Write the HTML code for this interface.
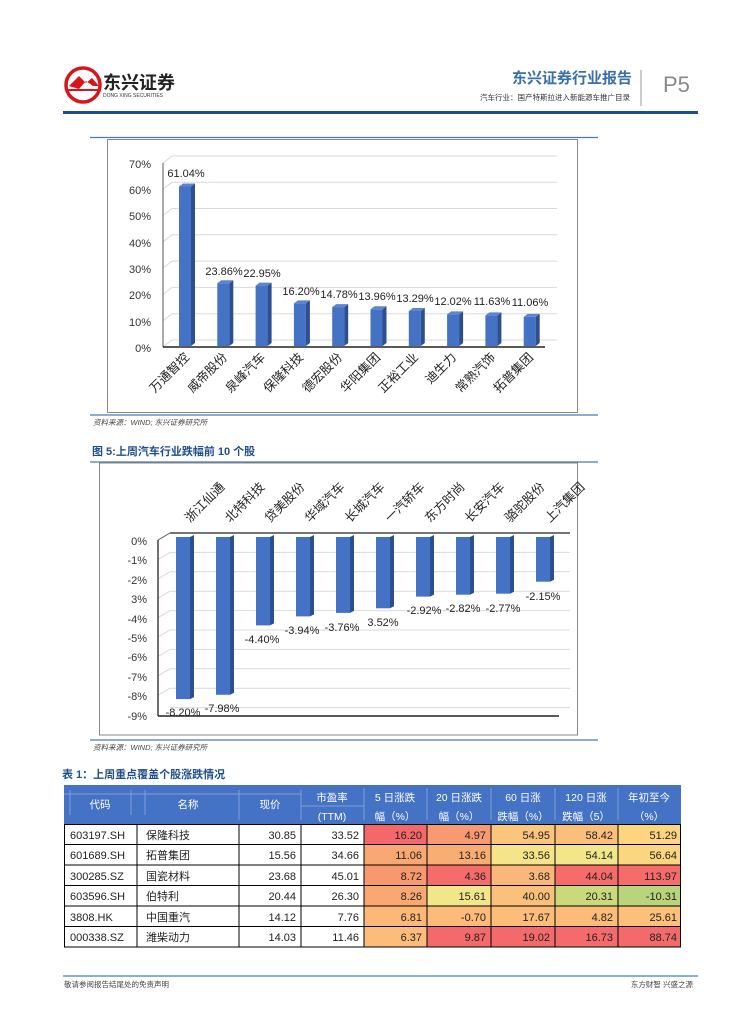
<!DOCTYPE html>
<html><head><meta charset="utf-8"><style>
html,body{margin:0;padding:0;background:#fff;}
svg{display:block;}
text{font-family:"Liberation Sans","Noto Sans CJK SC",sans-serif;}
</style></head><body>
<svg width="755" height="1024" viewBox="0 0 755 1024" xmlns="http://www.w3.org/2000/svg">
<!-- header -->
<circle cx="83" cy="85" r="17" fill="none" stroke="#d7161c" stroke-width="3.5"/>
<path d="M69 86 L79 76 L86 83 L92 78 L99 86 L93 86 L86 81 L79 89 Z" fill="#d7161c"/>
<path d="M68 90 L99 90" stroke="#d7161c" stroke-width="2"/>
<text x="103" y="89" font-size="18" font-weight="bold" fill="#222">东兴证券</text>
<text x="103" y="97" font-size="5" fill="#333">DONG XING SECURITIES</text>
<text x="632" y="83" font-size="15" font-weight="bold" fill="#3a6fa8" text-anchor="end">东兴证券行业报告</text>
<text x="630" y="100" font-size="7.5" fill="#333" text-anchor="end">汽车行业：国产特斯拉进入新能源车推广目录</text>
<line x1="641" y1="70" x2="641" y2="106" stroke="#999" stroke-width="1"/>
<text x="663" y="92" font-size="22" fill="#888">P5</text>
<rect x="63" y="111" width="635" height="3" fill="#1f4e8c"/>

<!-- chart 1 -->
<line x1="90" y1="137.5" x2="598" y2="137.5" stroke="#4a7ab0" stroke-width="1.2"/>
<rect x="107.5" y="139.5" width="470" height="273" fill="none" stroke="#888" stroke-width="1"/>
<line x1="90" y1="415" x2="598" y2="415" stroke="#4a7ab0" stroke-width="1.2"/>
<g stroke="#d9d9d9" stroke-width="1">
<line x1="172" y1="340" x2="557" y2="340"/><line x1="172" y1="313.7" x2="557" y2="313.7"/>
<line x1="172" y1="287.4" x2="557" y2="287.4"/><line x1="172" y1="261.1" x2="557" y2="261.1"/>
<line x1="172" y1="234.8" x2="557" y2="234.8"/><line x1="172" y1="208.5" x2="557" y2="208.5"/>
<line x1="172" y1="182.2" x2="557" y2="182.2"/><line x1="172" y1="156" x2="557" y2="156"/>
<line x1="163" y1="347" x2="172" y2="340"/><line x1="163" y1="320.7" x2="172" y2="313.7"/>
<line x1="163" y1="294.4" x2="172" y2="287.4"/><line x1="163" y1="268.1" x2="172" y2="261.1"/>
<line x1="163" y1="241.8" x2="172" y2="234.8"/><line x1="163" y1="215.5" x2="172" y2="208.5"/>
<line x1="163" y1="189.2" x2="172" y2="182.2"/><line x1="163" y1="163" x2="172" y2="156"/>
</g>
<line x1="163" y1="163" x2="163" y2="347" stroke="#555" stroke-width="1"/>
<line x1="163" y1="347" x2="545" y2="347" stroke="#222" stroke-width="1.5"/>
<g font-size="11" fill="#333" text-anchor="end">
<text x="151" y="168">70%</text><text x="151" y="194">60%</text><text x="151" y="220">50%</text>
<text x="151" y="247">40%</text><text x="151" y="273">30%</text><text x="151" y="299">20%</text>
<text x="151" y="326">10%</text><text x="151" y="352">0%</text>
</g>
<g>
<g fill="#4472c4">
<rect x="179" y="186.5" width="12" height="159.5"/>
<rect x="217.3" y="283.2" width="12" height="62.8"/>
<rect x="255.6" y="285.6" width="12" height="60.4"/>
<rect x="293.9" y="303.4" width="12" height="42.6"/>
<rect x="332.2" y="307.1" width="12" height="38.9"/>
<rect x="370.5" y="309.3" width="12" height="36.7"/>
<rect x="408.8" y="311" width="12" height="35"/>
<rect x="447.1" y="314.4" width="12" height="31.6"/>
<rect x="485.4" y="315.4" width="12" height="30.6"/>
<rect x="523.7" y="316.9" width="12" height="29.1"/>
</g>
<g fill="#2d4f8e">
<path d="M191 186.5 l4 -3 v159.5 l-4 3z"/>
<path d="M229.3 283.2 l4 -3 v62.8 l-4 3z"/>
<path d="M267.6 285.6 l4 -3 v60.4 l-4 3z"/>
<path d="M305.9 303.4 l4 -3 v42.6 l-4 3z"/>
<path d="M344.2 307.1 l4 -3 v38.9 l-4 3z"/>
<path d="M382.5 309.3 l4 -3 v36.7 l-4 3z"/>
<path d="M420.8 311 l4 -3 v35 l-4 3z"/>
<path d="M459.1 314.4 l4 -3 v31.6 l-4 3z"/>
<path d="M497.4 315.4 l4 -3 v30.6 l-4 3z"/>
<path d="M535.7 316.9 l4 -3 v29.1 l-4 3z"/>
</g>
<g fill="#5b85d0">
<path d="M179 186.5 l4 -3 h12 l-4 3z"/>
<path d="M217.3 283.2 l4 -3 h12 l-4 3z"/>
<path d="M255.6 285.6 l4 -3 h12 l-4 3z"/>
<path d="M293.9 303.4 l4 -3 h12 l-4 3z"/>
<path d="M332.2 307.1 l4 -3 h12 l-4 3z"/>
<path d="M370.5 309.3 l4 -3 h12 l-4 3z"/>
<path d="M408.8 311 l4 -3 h12 l-4 3z"/>
<path d="M447.1 314.4 l4 -3 h12 l-4 3z"/>
<path d="M485.4 315.4 l4 -3 h12 l-4 3z"/>
<path d="M523.7 316.9 l4 -3 h12 l-4 3z"/>
</g>
<g font-size="11" fill="#222" text-anchor="middle">
<text x="186" y="177">61.04%</text>
<text x="224" y="275">23.86%</text>
<text x="262" y="277">22.95%</text>
<text x="301" y="295">16.20%</text>
<text x="339" y="298">14.78%</text>
<text x="377" y="300">13.96%</text>
<text x="415" y="302">13.29%</text>
<text x="453" y="305">12.02%</text>
<text x="492" y="305">11.63%</text>
<text x="530" y="306">11.06%</text>
</g>
<g font-size="12.5" fill="#222" text-anchor="end">
<text transform="translate(190,358) rotate(-45)">万通智控</text>
<text transform="translate(228,358) rotate(-45)">威帝股份</text>
<text transform="translate(266,358) rotate(-45)">泉峰汽车</text>
<text transform="translate(304,358) rotate(-45)">保隆科技</text>
<text transform="translate(343,358) rotate(-45)">德宏股份</text>
<text transform="translate(381,358) rotate(-45)">华阳集团</text>
<text transform="translate(419,358) rotate(-45)">正裕工业</text>
<text transform="translate(457,358) rotate(-45)">迪生力</text>
<text transform="translate(496,358) rotate(-45)">常熟汽饰</text>
<text transform="translate(534,358) rotate(-45)">拓普集团</text>
</g>
</g>
<text x="93" y="425" font-size="7.5" font-style="italic" fill="#444">资料来源：WIND; 东兴证券研究所</text>

<!-- chart 2 -->
<text x="92" y="455" font-size="11" font-weight="bold" fill="#1f4e8c">图 5:上周汽车行业跌幅前 10 个股</text>
<line x1="90" y1="462" x2="598" y2="462" stroke="#4a7ab0" stroke-width="1.2"/>
<rect x="99.5" y="463" width="478" height="272" fill="none" stroke="#888" stroke-width="1"/>
<line x1="90" y1="740" x2="598" y2="740" stroke="#4a7ab0" stroke-width="1.2"/>
<g stroke="#d9d9d9" stroke-width="1">
<line x1="170" y1="552.4" x2="570" y2="552.4"/><line x1="170" y1="571.8" x2="570" y2="571.8"/>
<line x1="170" y1="591.2" x2="570" y2="591.2"/><line x1="170" y1="610.6" x2="570" y2="610.6"/>
<line x1="170" y1="630" x2="570" y2="630"/><line x1="170" y1="649.4" x2="570" y2="649.4"/>
<line x1="170" y1="668.8" x2="570" y2="668.8"/><line x1="170" y1="688.2" x2="570" y2="688.2"/>
<line x1="170" y1="707.6" x2="570" y2="707.6"/>
<line x1="158" y1="559.4" x2="170" y2="552.4"/><line x1="158" y1="578.8" x2="170" y2="571.8"/>
<line x1="158" y1="598.2" x2="170" y2="591.2"/><line x1="158" y1="617.6" x2="170" y2="610.6"/>
<line x1="158" y1="637" x2="170" y2="630"/><line x1="158" y1="656.4" x2="170" y2="649.4"/>
<line x1="158" y1="675.8" x2="170" y2="668.8"/><line x1="158" y1="695.2" x2="170" y2="688.2"/>
</g>
<line x1="170" y1="533" x2="570" y2="533" stroke="#222" stroke-width="1.3"/>
<line x1="158" y1="540" x2="170" y2="533" stroke="#555" stroke-width="1"/>
<line x1="158" y1="540" x2="158" y2="716" stroke="#222" stroke-width="1.3"/>
<line x1="158" y1="716" x2="559" y2="716" stroke="#222" stroke-width="1.5"/>
<g font-size="11" fill="#333" text-anchor="end">
<text x="147" y="545">0%</text><text x="147" y="564">-1%</text><text x="147" y="584">-2%</text>
<text x="147" y="603">3%</text><text x="147" y="623">-4%</text><text x="147" y="642">-5%</text>
<text x="147" y="661">-6%</text><text x="147" y="681">-7%</text><text x="147" y="700">-8%</text>
<text x="147" y="720">-9%</text>
</g>
<g fill="#4472c4">
<rect x="176" y="537" width="14" height="162.1"/>
<rect x="216" y="537" width="14" height="157.8"/>
<rect x="256" y="537" width="14" height="88.4"/>
<rect x="296" y="537" width="14" height="79.4"/>
<rect x="336" y="537" width="14" height="75.9"/>
<rect x="376" y="537" width="14" height="71.3"/>
<rect x="416" y="537" width="14" height="59.6"/>
<rect x="456" y="537" width="14" height="57.7"/>
<rect x="496" y="537" width="14" height="56.7"/>
<rect x="536" y="537" width="14" height="44.7"/>
</g>
<g fill="#2d4f8e">
<path d="M190 537 l4 -2 v162.1 l-4 2z"/>
<path d="M230 537 l4 -2 v157.8 l-4 2z"/>
<path d="M270 537 l4 -2 v88.4 l-4 2z"/>
<path d="M310 537 l4 -2 v79.4 l-4 2z"/>
<path d="M350 537 l4 -2 v75.9 l-4 2z"/>
<path d="M390 537 l4 -2 v71.3 l-4 2z"/>
<path d="M430 537 l4 -2 v59.6 l-4 2z"/>
<path d="M470 537 l4 -2 v57.7 l-4 2z"/>
<path d="M510 537 l4 -2 v56.7 l-4 2z"/>
<path d="M550 537 l4 -2 v44.7 l-4 2z"/>
</g>
<g font-size="11" fill="#222" text-anchor="middle">
<text x="183" y="716">-8.20%</text>
<text x="222" y="712">-7.98%</text>
<text x="262" y="643">-4.40%</text>
<text x="302" y="634">-3.94%</text>
<text x="342" y="631">-3.76%</text>
<text x="383" y="626">3.52%</text>
<text x="424" y="614">-2.92%</text>
<text x="463" y="612">-2.82%</text>
<text x="503" y="612">-2.77%</text>
<text x="543" y="600">-2.15%</text>
</g>
<g font-size="12.5" fill="#222">
<text transform="translate(190,523) rotate(-45)">浙江仙通</text>
<text transform="translate(230,523) rotate(-45)">北特科技</text>
<text transform="translate(270,523) rotate(-45)">贷美股份</text>
<text transform="translate(310,523) rotate(-45)">华域汽车</text>
<text transform="translate(350,523) rotate(-45)">长城汽车</text>
<text transform="translate(390,523) rotate(-45)">一汽轿车</text>
<text transform="translate(430,523) rotate(-45)">东方时尚</text>
<text transform="translate(470,523) rotate(-45)">长安汽车</text>
<text transform="translate(510,523) rotate(-45)">骆驼股份</text>
<text transform="translate(550,523) rotate(-45)">上汽集团</text>
</g>
<text x="93" y="750" font-size="7.5" font-style="italic" fill="#444">资料来源：WIND; 东兴证券研究所</text>

<!-- table -->
<text x="62" y="778" font-size="11" font-weight="bold" fill="#1f4e8c">表 1：上周重点覆盖个股涨跌情况</text>
<rect x="64" y="785" width="617" height="39" fill="#4472c4"/>
<g stroke="#7f9fd8" stroke-width="1">
<line x1="70" y1="790" x2="70" y2="815"/>
<line x1="131" y1="790" x2="131" y2="815"/><line x1="145" y1="790" x2="145" y2="815"/>
<line x1="239" y1="790" x2="239" y2="820"/>
<line x1="301" y1="790" x2="301" y2="820"/><line x1="364" y1="788" x2="364" y2="820"/>
<line x1="427" y1="788" x2="427" y2="820"/><line x1="491" y1="788" x2="491" y2="820"/>
<line x1="555" y1="788" x2="555" y2="820"/><line x1="618" y1="788" x2="618" y2="820"/>
<line x1="301" y1="806" x2="364" y2="806"/>
<line x1="64" y1="794" x2="301" y2="794"/>
</g>
<g font-size="10.5" fill="#fff" text-anchor="middle">
<text x="100" y="808">代码</text><text x="188" y="808">名称</text><text x="270" y="808">现价</text>
<text x="332" y="801">市盈率</text><text x="332" y="820">(TTM)</text>
<text x="395" y="801">5 日涨跌</text><text x="395" y="820">幅（%）</text>
<text x="459" y="801">20 日涨跌</text><text x="459" y="820">幅（%）</text>
<text x="523" y="801">60 日涨</text><text x="523" y="820">跌幅（%）</text>
<text x="586" y="801">120 日涨</text><text x="586" y="820">跌幅（5）</text>
<text x="649" y="801">年初至今</text><text x="649" y="820">（%）</text>
</g>
<g>
<rect x="364" y="824" width="63" height="20.5" fill="#f4686a"/><rect x="427" y="824" width="64" height="20.5" fill="#f89a71"/><rect x="491" y="824" width="64" height="20.5" fill="#fcc57d"/><rect x="555" y="824" width="63" height="20.5" fill="#fbbf7b"/><rect x="618" y="824" width="63" height="20.5" fill="#fdd480"/>
<rect x="364" y="844.5" width="63" height="20.5" fill="#f9a872"/><rect x="427" y="844.5" width="64" height="20.5" fill="#f8ad73"/><rect x="491" y="844.5" width="64" height="20.5" fill="#f6e48a"/><rect x="555" y="844.5" width="63" height="20.5" fill="#f1e78a"/><rect x="618" y="844.5" width="63" height="20.5" fill="#fbd680"/>
<rect x="364" y="865" width="63" height="20.5" fill="#f8986f"/><rect x="427" y="865" width="64" height="20.5" fill="#f56d6a"/><rect x="491" y="865" width="64" height="20.5" fill="#fbb779"/><rect x="555" y="865" width="63" height="20.5" fill="#f56c6a"/><rect x="618" y="865" width="63" height="20.5" fill="#f56c6a"/>
<rect x="364" y="885.5" width="63" height="20.5" fill="#faa872"/><rect x="427" y="885.5" width="64" height="20.5" fill="#f2e68a"/><rect x="491" y="885.5" width="64" height="20.5" fill="#fbc07b"/><rect x="555" y="885.5" width="63" height="20.5" fill="#cbd97d"/><rect x="618" y="885.5" width="63" height="20.5" fill="#b9d47a"/>
<rect x="364" y="906" width="63" height="20.5" fill="#fbb877"/><rect x="427" y="906" width="64" height="20.5" fill="#fcbb79"/><rect x="491" y="906" width="64" height="20.5" fill="#fcbc7a"/><rect x="555" y="906" width="63" height="20.5" fill="#fcbb78"/><rect x="618" y="906" width="63" height="20.5" fill="#fcc07b"/>
<rect x="364" y="926.5" width="63" height="20.5" fill="#fbbd79"/><rect x="427" y="926.5" width="64" height="20.5" fill="#f46a6a"/><rect x="491" y="926.5" width="64" height="20.5" fill="#f46a6a"/><rect x="555" y="926.5" width="63" height="20.5" fill="#f56b6b"/><rect x="618" y="926.5" width="63" height="20.5" fill="#f46a6a"/>
</g>
<g stroke="#000" stroke-width="1" fill="none">
<rect x="64.5" y="824.5" width="616" height="122.5"/>
<line x1="64" y1="844.5" x2="681" y2="844.5"/><line x1="64" y1="865" x2="681" y2="865"/>
<line x1="64" y1="885.5" x2="681" y2="885.5"/><line x1="64" y1="906" x2="681" y2="906"/>
<line x1="64" y1="926.5" x2="681" y2="926.5"/>
<line x1="137" y1="824" x2="137" y2="947"/><line x1="239" y1="824" x2="239" y2="947"/>
<line x1="301" y1="824" x2="301" y2="947"/><line x1="364" y1="824" x2="364" y2="947"/>
<line x1="427" y1="824" x2="427" y2="947"/><line x1="491" y1="824" x2="491" y2="947"/>
<line x1="555" y1="824" x2="555" y2="947"/><line x1="618" y1="824" x2="618" y2="947"/>
</g>
<g font-size="11" fill="#222">
<text x="70" y="839">603197.SH</text><text x="70" y="859">601689.SH</text><text x="70" y="880">300285.SZ</text>
<text x="70" y="900">603596.SH</text><text x="70" y="921">3808.HK</text><text x="70" y="941">000338.SZ</text>
<text x="146" y="839">保隆科技</text><text x="146" y="859">拓普集团</text><text x="146" y="880">国瓷材料</text>
<text x="146" y="900">伯特利</text><text x="146" y="921">中国重汽</text><text x="146" y="941">潍柴动力</text>
</g>
<g font-size="11" fill="#222" text-anchor="end">
<text x="296" y="839">30.85</text><text x="359" y="839">33.52</text><text x="422" y="839">16.20</text><text x="486" y="839">4.97</text><text x="550" y="839">54.95</text><text x="613" y="839">58.42</text><text x="677" y="839">51.29</text>
<text x="296" y="859">15.56</text><text x="359" y="859">34.66</text><text x="422" y="859">11.06</text><text x="486" y="859">13.16</text><text x="550" y="859">33.56</text><text x="613" y="859">54.14</text><text x="677" y="859">56.64</text>
<text x="296" y="880">23.68</text><text x="359" y="880">45.01</text><text x="422" y="880">8.72</text><text x="486" y="880">4.36</text><text x="550" y="880">3.68</text><text x="613" y="880">44.04</text><text x="677" y="880">113.97</text>
<text x="296" y="900">20.44</text><text x="359" y="900">26.30</text><text x="422" y="900">8.26</text><text x="486" y="900">15.61</text><text x="550" y="900">40.00</text><text x="613" y="900">20.31</text><text x="677" y="900">-10.31</text>
<text x="296" y="921">14.12</text><text x="359" y="921">7.76</text><text x="422" y="921">6.81</text><text x="486" y="921">-0.70</text><text x="550" y="921">17.67</text><text x="613" y="921">4.82</text><text x="677" y="921">25.61</text>
<text x="296" y="941">14.03</text><text x="359" y="941">11.46</text><text x="422" y="941">6.37</text><text x="486" y="941">9.87</text><text x="550" y="941">19.02</text><text x="613" y="941">16.73</text><text x="677" y="941">88.74</text>
</g>

<!-- footer -->
<line x1="63" y1="976" x2="698" y2="976" stroke="#4a7ab0" stroke-width="1.2"/>
<text x="64" y="987" font-size="7.5" fill="#444">敬请参阅报告结尾处的免责声明</text>
<text x="693" y="987" font-size="7.5" fill="#444" text-anchor="end">东方财智 兴盛之源</text>
</svg>
</body></html>
